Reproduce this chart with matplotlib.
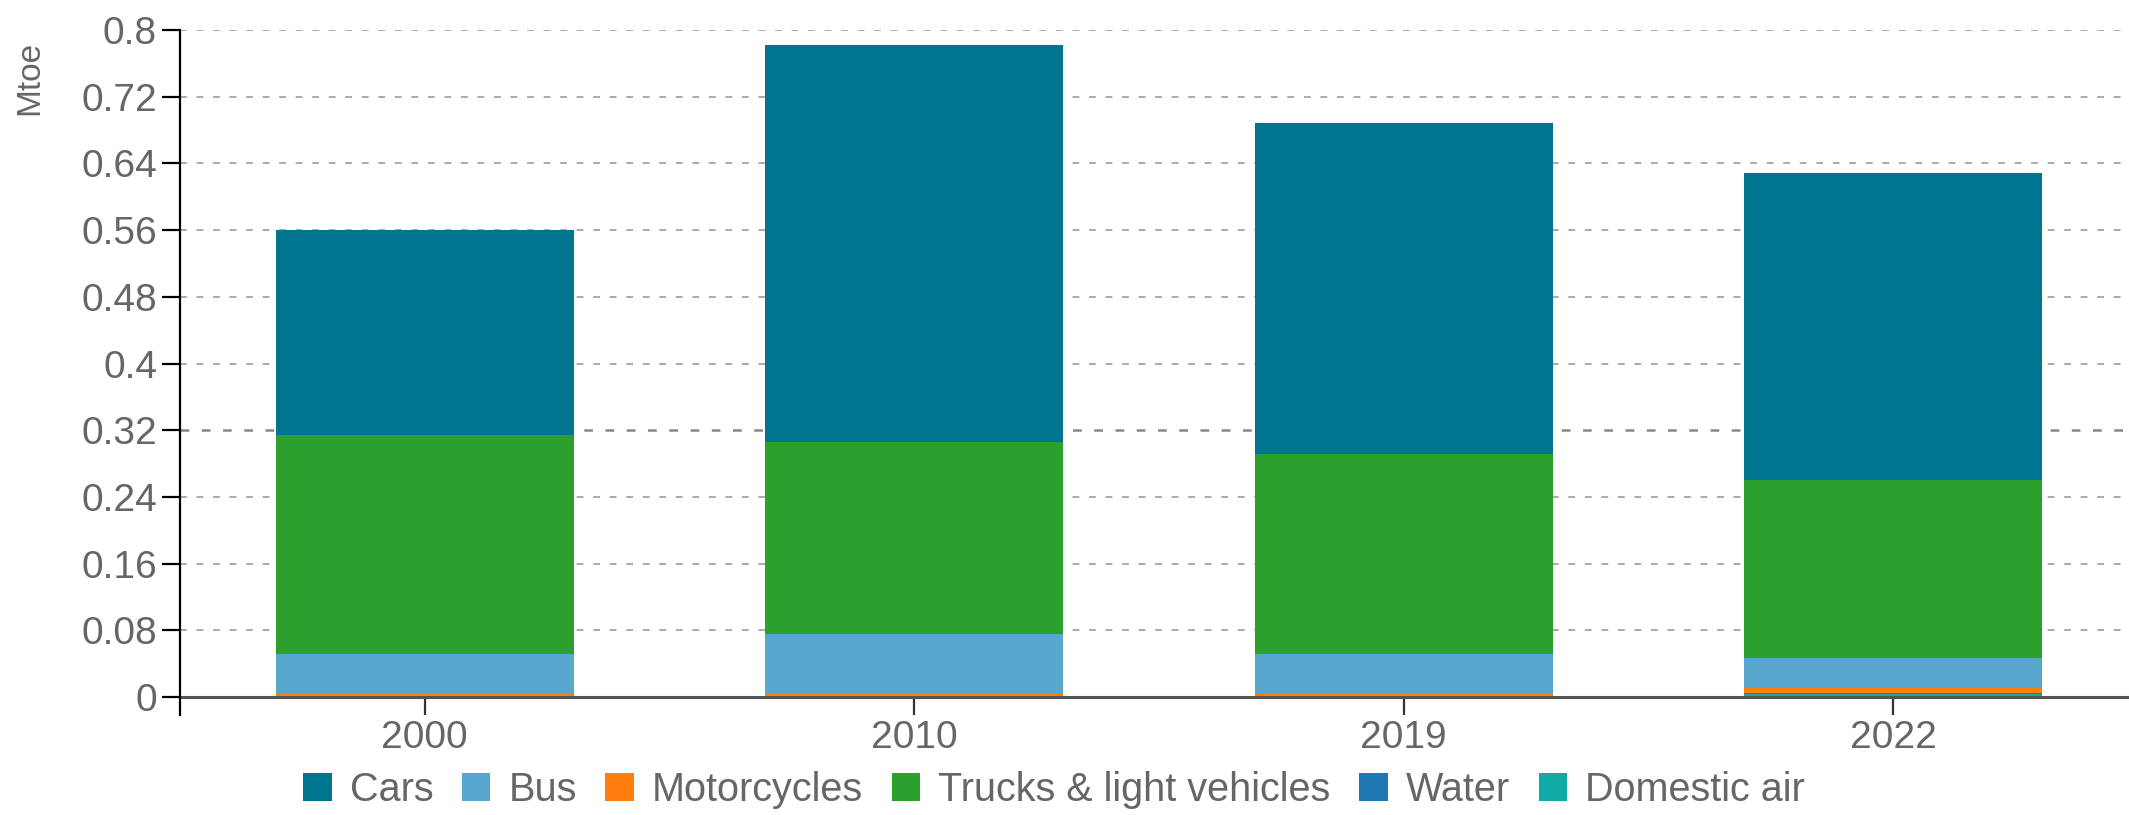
import matplotlib
matplotlib.use("Agg")
import matplotlib.pyplot as plt
from matplotlib.patches import Patch
import numpy as np

# ---- data ----
years = ["2000", "2010", "2019", "2022"]
cars = [0.246, 0.476, 0.397, 0.369]
bus = [0.048, 0.072, 0.048, 0.036]
motorcycles = [0.003, 0.003, 0.003, 0.006]
trucks = [0.2635, 0.231, 0.2407, 0.213]
water = [0.0, 0.0, 0.0, 0.001]
domestic_air = [0.0, 0.0, 0.0, 0.004]
yticks = [0, 0.08, 0.16, 0.24, 0.32, 0.4, 0.48, 0.56, 0.64, 0.72, 0.8]

legend_order = ["Cars", "Bus", "Motorcycles", "Trucks & light vehicles", "Water", "Domestic air"]
colors = {
    "Cars": "#00758F",
    "Bus": "#58A7CF",
    "Motorcycles": "#FF7F0E",
    "Trucks & light vehicles": "#2CA02C",
    "Water": "#1F77B4",
    "Domestic air": "#12AAA5",
}
series = {
    "Cars": cars,
    "Bus": bus,
    "Motorcycles": motorcycles,
    "Trucks & light vehicles": trucks,
    "Water": water,
    "Domestic air": domestic_air,
}
stack_order = ["Domestic air", "Water", "Motorcycles", "Bus", "Trucks & light vehicles", "Cars"]

plt.rcParams['font.family'] = ['Liberation Sans', 'DejaVu Sans']
TXT = "#666666"

W, H = 2129, 815
fig = plt.figure(figsize=(W / 100, H / 100), dpi=100)
left_px, zero_px, top_px = 180, 697, 30
ax = fig.add_axes([left_px / W, (H - zero_px) / H, (W - left_px) / W, (zero_px - top_px) / H])

x = np.arange(len(years))
bottom = np.zeros(len(years))
for name in stack_order:
    vals = np.array(series[name])
    ax.bar(x, vals, bottom=bottom, width=0.609, color=colors[name], linewidth=0, zorder=3)
    bottom += vals

slot_px = 489.5
ax.set_xlim(-0.5, -0.5 + (W - left_px) / slot_px)
ax.set_ylim(0, 0.8)
ax.set_xticks(x)
ax.set_xticklabels(years)
ax.set_yticks(yticks)
ax.set_yticklabels([f"{v:g}" for v in yticks])

ax.tick_params(axis='y', length=13, width=1.6, color='black', pad=3.5, labelsize=28, labelcolor=TXT)
ax.tick_params(axis='x', length=13, width=1.6, color='#333333', pad=3.5, labelsize=28, labelcolor=TXT)

for s in ['top', 'right']:
    ax.spines[s].set_visible(False)
ax.spines['left'].set_color('black')
ax.spines['left'].set_linewidth(1.6)
ax.spines['bottom'].set_color('#555555')
ax.spines['bottom'].set_linewidth(2.2)
ax.spines['bottom'].set_zorder(4)

ax.set_axisbelow(True)
ax.yaxis.grid(True, color='#aaaaaa', linewidth=1.4, linestyle=(0, (3.5, 5)))
gl = ax.yaxis.get_gridlines()
gl[4].set_color('#888888')
gl[4].set_linewidth(1.8)

# outer tick of the x domain at the left edge
ax.plot([0, 0], [0, -18 / (zero_px - top_px)], transform=ax.transAxes,
        color='black', lw=1.6, clip_on=False, zorder=5)

fig.text(30 / W, 1 - 78 / H, "Mtoe", rotation=90, ha='center', va='center',
         fontsize=24, color=TXT)

handles = [Patch(facecolor=colors[n], edgecolor='none', label=n) for n in legend_order]
fig.legend(handles=handles, loc='center', bbox_to_anchor=(1054 / W, 1 - 790 / H),
           ncol=6, frameon=False, fontsize=28.5, labelcolor=TXT,
           handlelength=0.72, handleheight=0.72, handletextpad=0.46,
           columnspacing=0.72, borderpad=0, borderaxespad=0)

fig.savefig("out.png", dpi=100)
